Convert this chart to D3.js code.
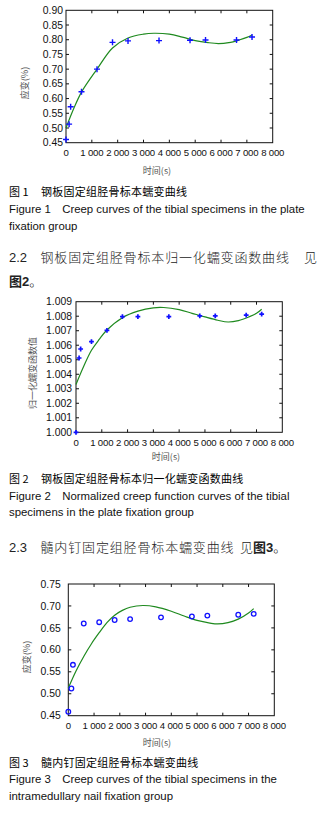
<!DOCTYPE html>
<html>
<head>
<meta charset="utf-8">
<script src="https://cdn.jsdelivr.net/npm/d3@7"></script>
<style>
  body { margin: 0; background: #fff; }
  svg { display: block; }
  .cap-cn { font-family: "Noto Sans CJK SC", sans-serif; font-weight: 400; font-size: 11px; fill: #000; }
  .cap-en { font-family: "Liberation Sans", Arial, sans-serif; font-size: 11.4px; fill: #111; }
  .sec { font-family: "Noto Sans CJK SC", sans-serif; font-weight: 300; font-size: 13px; fill: #222; }
  .tick-lbl { font-family: "Liberation Sans", Arial, sans-serif; fill: #111; }
  .axis-title { font-family: "Noto Sans CJK SC", sans-serif; font-size: 9px; fill: #555; }
</style>
</head>
<body>
<div id="page"></div>
<script>
/* ===== data ===== */

const timeTicks = [0, 1000, 2000, 3000, 4000, 5000, 6000, 7000, 8000];
const timeTickLabels = ['0', '1 000', '2 000', '3 000', '4 000', '5 000', '6 000', '7 000', '8 000'];

// measurement times (s), shared by the three figures
const sampleTime = [0, 120, 180, 600, 1200, 1800, 2400, 3600, 4800, 5400, 6600, 7200];

// Figure 1 - plate fixation, strain (%)
const strainTicks1 = [0.45, 0.50, 0.55, 0.60, 0.65, 0.70, 0.75, 0.80, 0.85, 0.90];
const plateStrain = [0.461, 0.513, 0.572, 0.623, 0.700, 0.791, 0.796, 0.797, 0.798, 0.799, 0.799, 0.809];
const plateFitTime = [0, 300, 600, 1200, 1800, 2400, 3000, 3400, 4000, 4500, 5000, 5500, 5900, 6300, 6700, 7000, 7200];
const plateFitStrain = [0.500, 0.566, 0.622, 0.700, 0.772, 0.806, 0.819, 0.822, 0.819, 0.809, 0.797, 0.790, 0.787, 0.790, 0.799, 0.808, 0.816];

// Figure 2 - plate fixation, normalized creep function
const normTicks = [1.000, 1.001, 1.002, 1.003, 1.004, 1.005, 1.006, 1.007, 1.008, 1.009];
const plateNorm = [1.0000, 1.00512, 1.00574, 1.00625, 1.00703, 1.00797, 1.00797, 1.00797, 1.00802, 1.00802, 1.00807, 1.00814];
const normFitTime = [0, 300, 600, 900, 1200, 1800, 2400, 3000, 3400, 4000, 4500, 5000, 5500, 5900, 6300, 6700, 7000, 7200];
const normFit = [1.00330, 1.00455, 1.00565, 1.00640, 1.00705, 1.00790, 1.00835, 1.00858, 1.00860, 1.00845, 1.00820, 1.00795, 1.00772, 1.00760, 1.00770, 1.00795, 1.00820, 1.00848];

// Figure 3 - intramedullary nail fixation, strain (%)
const strainTicks3 = [0.45, 0.50, 0.55, 0.60, 0.65, 0.70, 0.75];
const nailStrain = [0.459, 0.512, 0.566, 0.660, 0.663, 0.668, 0.670, 0.674, 0.676, 0.678, 0.680, 0.682];
const nailFitTime = [0, 300, 600, 900, 1200, 1500, 1800, 2100, 2400, 2900, 3400, 4000, 4500, 5000, 5500, 5800, 6200, 6600, 7000, 7200];
const nailFit = [0.513, 0.552, 0.585, 0.614, 0.639, 0.662, 0.679, 0.690, 0.697, 0.701, 0.698, 0.688, 0.677, 0.667, 0.661, 0.659, 0.662, 0.670, 0.684, 0.694];

/* ===== drawing ===== */

const W = 318, H = 817;
const svg = d3.select('#page').append('svg')
  .attr('width', W).attr('height', H);

svg.append('rect').attr('width', W).attr('height', H).attr('fill', '#fff');

function drawChart(o) {
  const x = d3.scaleLinear().domain([0, 8000]).range([o.left, o.right]);
  const y = d3.scaleLinear().domain(d3.extent(o.yTicks)).range([o.bottom, o.top]);
  const g = svg.append('g');
  const tl = 3;

  // frame
  g.append('rect')
    .attr('x', o.left).attr('y', o.top)
    .attr('width', o.right - o.left).attr('height', o.bottom - o.top)
    .attr('fill', 'none').attr('stroke', '#111').attr('stroke-width', 1);

  // inward ticks, all four sides
  timeTicks.slice(1, -1).forEach(t => {
    g.append('line').attr('x1', x(t)).attr('x2', x(t)).attr('y1', o.bottom).attr('y2', o.bottom - tl).attr('stroke', '#111');
    g.append('line').attr('x1', x(t)).attr('x2', x(t)).attr('y1', o.top).attr('y2', o.top + tl).attr('stroke', '#111');
  });
  o.yTicks.slice(1, -1).forEach(t => {
    g.append('line').attr('x1', o.left).attr('x2', o.left + tl).attr('y1', y(t)).attr('y2', y(t)).attr('stroke', '#111');
    g.append('line').attr('x1', o.right).attr('x2', o.right - tl).attr('y1', y(t)).attr('y2', y(t)).attr('stroke', '#111');
  });

  // tick labels
  g.selectAll('.xl')
    .data(timeTicks)
    .join('text')
    .attr('class', 'tick-lbl')
    .attr('x', d => x(d))
    .attr('y', o.bottom + 13.5)
    .attr('text-anchor', 'middle')
    .attr('font-size', '9.6px')
    .attr('letter-spacing', '-0.2px')
    .text((d, i) => timeTickLabels[i]);

  g.selectAll('.yl')
    .data(o.yTicks)
    .join('text')
    .attr('class', 'tick-lbl')
    .attr('x', o.left - o.yGap)
    .attr('y', d => y(d))
    .attr('dy', '0.35em')
    .attr('text-anchor', 'end')
    .attr('font-size', '10.4px')
    .text(d => d3.format(o.yFmt)(d));

  // axis titles
  g.append('text')
    .attr('class', 'axis-title')
    .attr('x', o.xTitleX).attr('y', o.xTitleY)
    .attr('text-anchor', 'middle')
    .text('时间(s)');

  g.append('text')
    .attr('class', 'axis-title')
    .attr('transform', `translate(${o.yTitleX},${o.yTitleY}) rotate(-90)`)
    .attr('text-anchor', 'middle')
    .attr('dy', '0.35em')
    .text(o.yTitle);

  // fitted curve
  const fit = o.fitT.map((t, i) => [t, o.fitV[i]]);
  g.append('path')
    .datum(fit)
    .attr('fill', 'none')
    .attr('stroke', '#1f8a1f')
    .attr('stroke-width', 1.2)
    .attr('d', d3.line().x(d => x(d[0])).y(d => y(d[1])).curve(d3.curveCatmullRom));

  // measured points
  const pts = sampleTime.map((t, i) => [t, o.vals[i]]);
  if (o.marker === 'circle') {
    g.selectAll('.pt')
      .data(pts)
      .join('circle')
      .attr('cx', d => x(d[0]))
      .attr('cy', d => y(d[1]))
      .attr('r', 2.3)
      .attr('fill', 'none')
      .attr('stroke', '#1010ff')
      .attr('stroke-width', 1.3);
  } else {
    const s = o.plusSize;
    g.selectAll('.pt')
      .data(pts)
      .join('path')
      .attr('transform', d => `translate(${x(d[0])},${y(d[1])})`)
      .attr('d', `M${-s},0H${s}M0,${-s}V${s}`)
      .attr('stroke', '#1010ff')
      .attr('stroke-width', o.plusWidth);
  }
}

drawChart({
  left: 66, right: 272.7, top: 10.3, bottom: 142.7,
  yTicks: strainTicks1, yFmt: '.2f', yGap: 3,
  vals: plateStrain, fitT: plateFitTime, fitV: plateFitStrain,
  marker: 'plus', plusSize: 3, plusWidth: 1.4,
  xTitleX: 157, xTitleY: 174, yTitle: '应变(%)', yTitleX: 25, yTitleY: 83
});

drawChart({
  left: 76, right: 282.3, top: 301.7, bottom: 432.3,
  yTicks: normTicks, yFmt: '.3f', yGap: 4,
  vals: plateNorm, fitT: normFitTime, fitV: normFit,
  marker: 'plus', plusSize: 2.4, plusWidth: 1.7,
  xTitleX: 166, xTitleY: 460, yTitle: '归一化蠕变函数值', yTitleX: 33, yTitleY: 373
});

drawChart({
  left: 68.3, right: 274.3, top: 584, bottom: 715.7,
  yTicks: strainTicks3, yFmt: '.2f', yGap: 7.5,
  vals: nailStrain, fitT: nailFitTime, fitV: nailFit,
  marker: 'circle',
  xTitleX: 157, xTitleY: 746, yTitle: '应变(%)', yTitleX: 27, yTitleY: 657
});

/* ===== captions and body text ===== */

function cnCap(num, title, yy) {
  const t = svg.append('text').attr('class', 'cap-cn').attr('x', 9).attr('y', yy);
  t.append('tspan').text('图 ' + num);
  t.append('tspan').attr('x', 41).attr('letter-spacing', '0.25px').text(title);
}

function enCap(lines, yy) {
  lines.forEach((l, i) => {
    svg.append('text').attr('class', 'cap-en').attr('x', 9).attr('y', yy + i * 16.7).text(l);
  });
}

cnCap(1, '钢板固定组胫骨标本蠕变曲线', 195.5);
enCap(['Figure 1\u2003Creep curves of the tibial specimens in the plate', 'fixation group'], 213);

const s22 = svg.append('text').attr('class', 'sec').attr('x', 9).attr('y', 261.5);
s22.append('tspan').attr('font-family', 'Liberation Sans, Arial').attr('font-weight', 400).text('2.2');
s22.append('tspan').attr('x', 40.5).attr('letter-spacing', '0.85px').text('钢板固定组胫骨标本归一化蠕变函数曲线');
s22.append('tspan').attr('x', 304).text('见');

const f2 = svg.append('text').attr('class', 'sec').attr('x', 9).attr('y', 286);
f2.append('tspan').attr('font-weight', 700).attr('font-family', 'Liberation Sans, "Noto Sans CJK SC"').text('图2');
f2.append('tspan').text('。');

cnCap(2, '钢板固定组胫骨标本归一化蠕变函数曲线', 483);
enCap(['Figure 2\u2003Normalized creep function curves of the tibial', 'specimens in the plate fixation group'], 499.5);

const s23 = svg.append('text').attr('class', 'sec').attr('x', 9).attr('y', 551.5);
s23.append('tspan').attr('font-family', 'Liberation Sans, Arial').attr('font-weight', 400).text('2.3');
s23.append('tspan').attr('x', 40.5).attr('letter-spacing', '0.85px').text('髓内钉固定组胫骨标本蠕变曲线');
s23.append('tspan').attr('x', 240).text('见');
s23.append('tspan').attr('font-weight', 700).attr('font-family', 'Liberation Sans, "Noto Sans CJK SC"').text('图3');
s23.append('tspan').text('。');

cnCap(3, '髓内钉固定组胫骨标本蠕变曲线', 766.5);
enCap(['Figure 3\u2003Creep curves of the tibial specimens in the', 'intramedullary nail fixation group'], 783);
</script>
</body>
</html>
